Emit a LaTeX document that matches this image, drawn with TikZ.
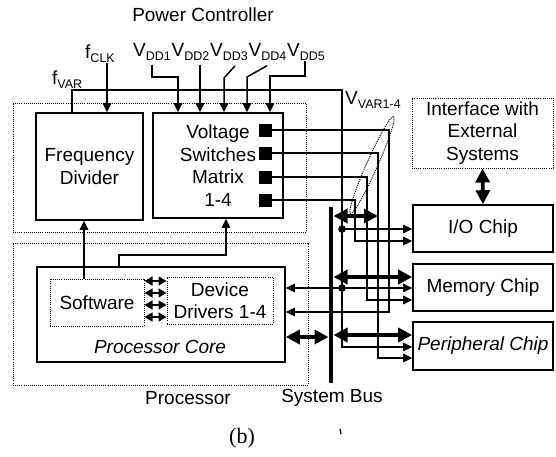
\documentclass[tikz,border=0pt]{standalone}
\usepackage{fontspec}
\setmainfont{Liberation Sans}
\newfontfamily\capfont{Liberation Serif}
\usetikzlibrary{arrows.meta}
\newcommand{\lowsub}[1]{\raisebox{-4.5pt}{\fontsize{12.5}{12.5}\selectfont #1}}

\begin{document}
\begin{tikzpicture}[x=1pt, y=-1pt,
    txt/.style={inner sep=0pt, font=\fontsize{19}{22.5}\selectfont},
    lbl/.style={txt, anchor=base west},
    blk/.style={txt, rectangle, draw, line width=1.6pt, align=center},
    area/.style={txt, rectangle, draw, line width=1pt, dash pattern=on 1pt off 1.1pt, align=center},
    pad/.style={rectangle, fill, minimum size=13pt, inner sep=0pt},
    wire/.style={line width=1.5pt},
    sig/.style={wire, -{Triangle[length=9pt,width=8.5pt]}},
    dbl/.style={wire, {Triangle[length=8pt,width=9pt]}-{Triangle[length=8pt,width=9pt]}},
    bus/.style={line width=3.8pt, {Triangle[length=14pt,width=14pt]}-{Triangle[length=14pt,width=14pt]}}
]
    \useasboundingbox (0,0) rectangle (556,456);

    % dotted areas
    \node[area, minimum width=293pt, minimum height=129pt] (pwr) at (159.5,167.5) {};
    \node[area, minimum width=295pt, minimum height=142pt] (proc) at (160.5,314) {};

    % power controller
    \node[blk, minimum width=107pt, minimum height=107pt] (fdiv) at (89.5,166.5) {Frequency\\Divider};
    \node[blk, minimum width=130pt, minimum height=105pt] (vsm) at (218,165.5) {Voltage\\Switches\\Matrix\\1-4};
    \foreach \i/\y in {1/130,2/153,3/177,4/200}
        \node[pad] (sq\i) at (265,\y) {};

    % processor
    \node[blk, minimum width=248pt, minimum height=95pt] (core) at (161,314.5) {};
    \node[txt, font=\fontsize{19}{22.5}\selectfont\itshape] (coretxt) at (160,347) {Processor Core};
    \node[area, minimum width=94pt, minimum height=47pt] (sw) at (97,302.5) {Software};
    \node[area, minimum width=106pt, minimum height=47pt] (dd) at (220,300.5) {Device\\Drivers 1-4};

    % chips
    \node[area, minimum width=141pt, minimum height=70pt] (iface) at (482.5,133) {Interface with\\External\\Systems};
    \node[blk, minimum width=140pt, minimum height=47pt] (io) at (483,228.5) {I/O Chip};
    \node[blk, minimum width=140pt, minimum height=47pt] (mem) at (483,287.5) {Memory Chip};
    \node[blk, minimum width=140pt, minimum height=48pt, font=\fontsize{19}{22.5}\selectfont\itshape] (per) at (483,346) {Peripheral Chip};

    % labels
    \node[txt] (ttl) at (203,15) {Power Controller};
    \node[lbl] (fclk) at (85,58) {f\lowsub{CLK}};
    \node[lbl] (fvar) at (52,84) {f\lowsub{VAR}};
    \foreach \i in {1,...,5}
        \node[lbl] (vdd\i) at ({133+38.5*(\i-1)},56) {V\lowsub{DD\i}};
    \node[lbl] (vvar) at (345,104) {V\lowsub{VAR1-4}};
    \node[txt] (proclbl) at (188,398) {Processor};
    \node[txt] (buslbl) at (332,398) {System Bus};
    \node[inner sep=0pt, font=\capfont\fontsize{22}{24}\selectfont] (cap) at (242,438) {(b)};

    % clock and supplies
    \draw[sig] (fclk.south -| 107,0) -- (fdiv.north -| 107,0);
    \draw[sig] ([yshift=-4pt]vdd1.south) |- (178,77) -- (vsm.north -| 178,0);
    \draw[sig] ([yshift=-4pt]vdd2.south -| 200,0) -- (vsm.north -| 200,0);
    \draw[sig] ([yshift=-5pt]vdd3.south -| 235,0) -- (224,78) -- (vsm.north -| 224,0);
    \draw[sig] ([yshift=-5pt]vdd4.south -| 267,0) -- (247,77) -- (vsm.north -| 247,0);
    \draw[sig] (vdd5.south -| 305,0) |- (270,76) -- (vsm.north -| 270,0);

    % software control
    \draw[sig] (sw.north -| 84,0) -- (fdiv.south -| 84,0);
    \draw[sig] (core.north -| 119,0) |- (226,255) -- (vsm.south -| 226,0);
    \foreach \y in {281,293,305,317}
        \draw[dbl] (sw.east |- 0,\y) -- (dd.west |- 0,\y);

    % system bus
    \coordinate (bt) at (331,207);
    \coordinate (bb) at (331,383);
    \draw[line width=4.5pt] (bt) -- (bb);
    \draw[bus] (333.5,216) -- (378,216);
    \draw[bus] (333.5,277) -- (mem.west |- 0,277);
    \draw[bus] (333.5,335) -- (per.west |- 0,335);
    \draw[bus] (core.east |- 0,337) -- (328.5,337);
    \draw[bus] (iface.south) -- (io.north);

    % f_VAR distribution
    \coordinate (j1) at (342,229);
    \coordinate (j2) at (342,288);
    \draw[sig] (fdiv.north -| 72,0) |- (342,90) |- (per.west |- 0,347);
    \draw[sig] (j1) -- (j1 -| io.west);
    \draw[sig] (j2) -- (j2 -| mem.west);
    \draw[sig] (j2) -- (j2 -| core.east);
    \fill (j1) circle (3.8);
    \fill (j2) circle (3.8);

    % V_VAR lines
    \draw[sig] (sq1.east) -| (389,312) -- (core.east |- 0,312);
    \draw[sig] (sq2.east) -| (378,358) -- (per.west |- 0,358);
    \draw[sig] (sq3.east) -| (367,300) -- (mem.west |- 0,300);
    \draw[sig] (sq4.east) -| (355,241) -- (io.west |- 0,241);
    \draw[line width=1pt, dash pattern=on 1pt off 1.1pt, rotate around={66:(372,165)}] (372,165) ellipse [x radius=53, y radius=5.5];

    \draw[line width=1.3pt] (340,429) -- (341,434);
\end{tikzpicture}
\end{document}
